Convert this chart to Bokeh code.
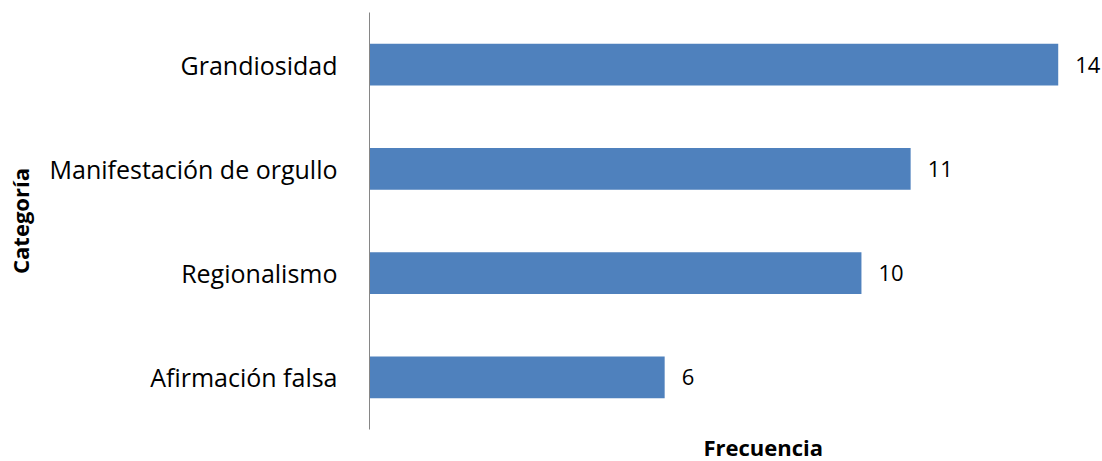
from bokeh.plotting import figure
from bokeh.models import ColumnDataSource, Title
from bokeh.embed import file_html
from bokeh.resources import INLINE
from bokeh.core.properties import value

categories = ["Afirmación falsa", "Regionalismo", "Manifestación de orgullo", "Grandiosidad"]
counts = [6, 10, 11, 14]
labels = [str(c) for c in counts]
x_title = "Frecuencia"
y_title = "Categoría"

src = ColumnDataSource(dict(cat=categories, val=counts, lab=labels))

FONT = "Open Sans"
p = figure(width=1102, height=461, y_range=categories, x_range=(0, 14.9),
           output_backend="svg", toolbar_location=None,
           min_border_left=369, min_border_right=0, min_border_top=12, min_border_bottom=29)
p.outline_line_color = None
p.grid.visible = False

p.hbar(y="cat", right="val", left=0, height=0.4, source=src, color="#4F81BD", line_color=None)
p.text(x="val", y="cat", text="lab", source=src, x_offset=17, text_baseline="middle",
       text_align="left", text_font=value(FONT), text_font_size="22px", text_color="#000000")

ya = p.yaxis[0]
ya.axis_line_color = "#868686"
ya.major_tick_line_color = None
ya.minor_tick_line_color = None
ya.major_label_standoff = 26
ya.major_label_text_font = FONT
ya.major_label_text_font_size = "25px"
ya.major_label_text_color = "#000000"
ya.axis_label = y_title
ya.axis_label_text_font = FONT
ya.axis_label_text_font_style = "bold"
ya.axis_label_text_font_size = "22px"
ya.axis_label_text_color = "#000000"
ya.axis_label_standoff = 12

p.xaxis.visible = False

p.add_layout(Title(text=x_title, align="left", offset=334, standoff=0,
                   text_font=FONT, text_font_style="bold", text_font_size="22px",
                   text_color="#000000"), "below")

open("out.html", "w").write(file_html(p, INLINE))
